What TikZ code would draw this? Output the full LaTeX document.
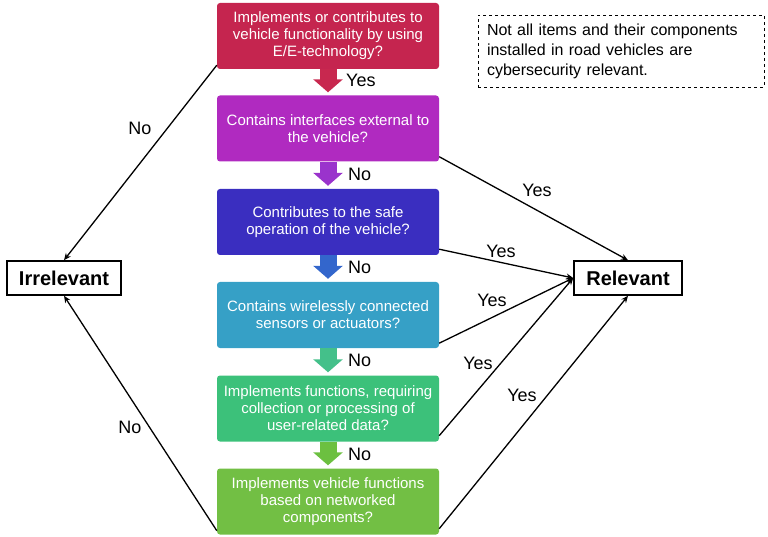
\documentclass[tikz,border=0pt]{standalone}
\usepackage{fontspec}
\setmainfont{Liberation Sans}
\usetikzlibrary{arrows.meta,calc}
\definecolor{cA}{HTML}{C5254F}
\definecolor{cB}{HTML}{B02AC0}
\definecolor{cC}{HTML}{3A2EC0}
\definecolor{cD}{HTML}{36A0C6}
\definecolor{cE}{HTML}{3CC17A}
\definecolor{cF}{HTML}{72BF44}
\definecolor{aA}{HTML}{C8284F}
\definecolor{aB}{HTML}{9A33CC}
\definecolor{aC}{HTML}{3366CC}
\definecolor{aD}{HTML}{44C08A}
\definecolor{aE}{HTML}{6CC040}
\tikzset{
  qbox/.style={rounded corners=3pt, minimum width=222pt, minimum height=66pt,
    align=center, text=white, font=\fontsize{15}{17}\selectfont, inner sep=0pt},
  endbox/.style={draw=black, line width=1.6pt, fill=white, minimum height=34pt, inner sep=0pt,
    font=\fontsize{20}{24}\selectfont\bfseries},
  blockarrow/.style={line width=17pt, -{Triangle[width=29pt,length=13pt]}, shorten >=3pt},
  conn/.style={draw=black, line width=1.3pt, -{Stealth[length=7pt,width=6pt]}},
  lbl/.style={font=\fontsize{18}{21}\selectfont, inner sep=0pt},
}
\begin{document}
\begin{tikzpicture}[x=1pt,y=-1pt]
\useasboundingbox (0,0) rectangle (768,537);
\node[qbox, fill=cA] (b1) at (328,36) {Implements or contributes to\\vehicle functionality by using\\E/E-technology?};
\node[qbox, fill=cB] (b2) at (328,128.5) {Contains interfaces external to\\the vehicle?};
\node[qbox, fill=cC] (b3) at (328,222) {Contributes to the safe\\operation of the vehicle?};
\node[qbox, fill=cD] (b4) at (328,315) {Contains wirelessly connected\\sensors or actuators?};
\node[qbox, fill=cE] (b5) at (328,408.5) {Implements functions, requiring\\collection or processing of\\user-related data?};
\node[qbox, fill=cF] (b6) at (328,501.5) {Implements vehicle functions\\based on networked\\components?};

\node[endbox, minimum width=114pt] (irr) at (64,278) {Irrelevant};
\node[endbox, minimum width=108pt] (rel) at (628,278) {Relevant};

\node[draw=black, dashed, line width=0.8pt, minimum width=286pt, minimum height=72pt, text width=268pt,
  align=left, inner sep=0pt, font=\fontsize{16}{20}\selectfont] (note) at (621,51)
  {Not all items and their components\\installed in road vehicles are\\cybersecurity relevant.};

\draw[blockarrow, aA] (b1.south) -- (b2.north);
\draw[blockarrow, aB] (b2.south) -- (b3.north);
\draw[blockarrow, aC] (b3.south) -- (b4.north);
\draw[blockarrow, aD] (b4.south) -- (b5.north);
\draw[blockarrow, aE] (b5.south) -- (b6.north);

\node[lbl, anchor=west] (l1) at (346,80) {Yes};
\node[lbl, anchor=west] (l2) at (348,174) {No};
\node[lbl, anchor=west] (l3) at (348,267) {No};
\node[lbl, anchor=west] (l4) at (348,360) {No};
\node[lbl, anchor=west] (l5) at (348,454) {No};

\draw[conn] ([yshift=4pt]b1.south west) -- (irr.north);
\draw[conn] ([yshift=4pt]b6.south west) -- (irr.south);
\draw[conn] ([yshift=5pt]b2.south east) -- (rel.north);
\draw[conn] ([yshift=6pt]b3.south east) -- (rel.west);
\draw[conn] ([yshift=5pt]b4.south east) -- (rel.west);
\draw[conn] ([yshift=6pt]b5.south east) -- (rel.west);
\draw[conn] ([yshift=6pt]b6.south east) -- (rel.south);

\node[lbl] (n1) at (140,128) {No};
\node[lbl] (n2) at (130,427) {No};
\node[lbl] (y1) at (537,190) {Yes};
\node[lbl] (y2) at (501,251) {Yes};
\node[lbl] (y3) at (492,300) {Yes};
\node[lbl] (y4) at (478,363) {Yes};
\node[lbl] (y5) at (522,395) {Yes};
\end{tikzpicture}
\end{document}
